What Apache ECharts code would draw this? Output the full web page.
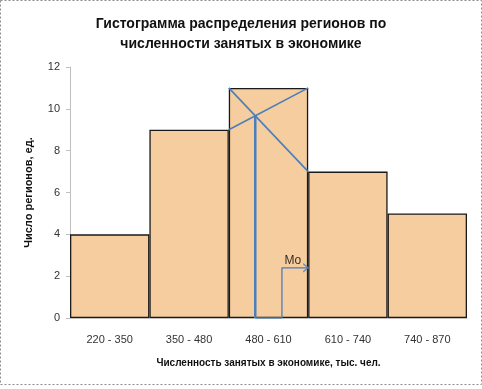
<!DOCTYPE html>
<html><head><meta charset="utf-8">
<script src="https://cdn.jsdelivr.net/npm/echarts@6/dist/echarts.min.js"></script>
<style>html,body{margin:0;padding:0;background:#fff}#c{width:482px;height:389px}</style>
</head><body><div id="c"></div>
<script>
const categories = ['220 - 350', '350 - 480', '480 - 610', '610 - 740', '740 - 870'];
const bounds = [220, 350, 480, 610, 740, 870];
const counts = [4, 9, 11, 7, 5];
const yTicks = [0, 2, 4, 6, 8, 10, 12];
const titleText = 'Гистограмма распределения регионов по\nчисленности занятых в экономике';
const xName = 'Численность занятых в экономике, тыс. чел.';
const yName = 'Число регионов, ед.';
// annotation (arrow to Mo) in data units
const arrowStepX = 567;
const arrowY = 2.4;
const moLabelPos = [585, 2.75];

// modal interval and mode computation from data
const m = counts.indexOf(Math.max(...counts));
const x0 = bounds[m], h = bounds[m + 1] - bounds[m];
const fM = counts[m], fPrev = counts[m - 1], fNext = counts[m + 1];
const Mo = x0 + h * (fM - fPrev) / ((fM - fPrev) + (fM - fNext));
const yInt = fPrev + (fM - fPrev) * (Mo - x0) / h;

const blue = '#4a7ebb';
const chart = echarts.init(document.getElementById('c'));
chart.setOption({
  animation: false,
  textStyle: { fontFamily: 'Liberation Sans' },
  title: {
    text: titleText, left: 'center', top: 9,
    textStyle: { fontSize: 14, fontWeight: 'bold', color: '#111', lineHeight: 20, fontFamily: 'Liberation Sans' }
  },
  graphic: [{
    type: 'rect', shape: { x: 0.5, y: 0.5, width: 481, height: 384 },
    style: { fill: 'none', stroke: '#8c8c8c', lineWidth: 1, lineDash: [2, 2] }, silent: true, z: 100
  }],
  grid: { left: 70, right: 15, top: 67, bottom: 71 },
  xAxis: [{
    type: 'category', data: categories, boundaryGap: true,
    axisLine: { lineStyle: { color: '#bfbfbf' } }, axisTick: { show: false },
    axisLabel: { color: '#333', fontSize: 11, margin: 16 },
    name: xName, nameLocation: 'middle', nameGap: 40,
    nameTextStyle: { fontSize: 10, fontWeight: 'bold', color: '#111' }
  }, {
    type: 'value', min: bounds[0], max: bounds[bounds.length - 1], show: false
  }],
  yAxis: {
    type: 'value', min: yTicks[0], max: yTicks[yTicks.length - 1], interval: 2,
    axisLine: { show: true, lineStyle: { color: '#bfbfbf', width: 1 } },
    axisTick: { show: true, length: 4, lineStyle: { color: '#bfbfbf' } },
    splitLine: { show: false },
    axisLabel: { color: '#333', fontSize: 11, margin: 10 },
    name: yName, nameLocation: 'middle', nameGap: 36,
    nameTextStyle: { fontSize: 11, fontWeight: 'bold', color: '#111' }
  },
  series: [{
    type: 'bar', data: counts, barCategoryGap: '0%', xAxisIndex: 0,
    itemStyle: { color: '#F6CD9E', borderColor: '#1a1a1a', borderWidth: 1.3 }
  }, {
    type: 'line', xAxisIndex: 1, symbol: 'none', silent: true,
    data: [[x0, fM], [bounds[m + 1], fNext]], lineStyle: { color: blue, width: 1.6 }
  }, {
    type: 'line', xAxisIndex: 1, symbol: 'none', silent: true,
    data: [[x0, fPrev], [bounds[m + 1], fM]], lineStyle: { color: blue, width: 1.6 }
  }, {
    type: 'line', xAxisIndex: 1, symbol: 'none', silent: true,
    data: [[Mo, 0], [Mo, yInt]], lineStyle: { color: blue, width: 2.5 }
  }, {
    type: 'line', xAxisIndex: 1, symbol: 'none', silent: true,
    data: [[Mo, 0], [arrowStepX, 0], [arrowStepX, arrowY], [bounds[m + 1], arrowY]],
    lineStyle: { color: blue, width: 1.3 }
  }, {
    type: 'scatter', xAxisIndex: 1, silent: true,
    symbol: 'path://M0,0L10,5L0,10', symbolSize: [5, 8], symbolOffset: [-2.5, 0],
    itemStyle: { color: 'none', borderColor: blue, borderWidth: 1.3 },
    data: [[bounds[m + 1], arrowY]]
  }, {
    type: 'scatter', xAxisIndex: 1, symbolSize: 0, silent: true,
    data: [moLabelPos],
    label: { show: true, position: 'inside', formatter: 'Mo', fontSize: 12, color: '#000' }
  }]
});
</script></body></html>
